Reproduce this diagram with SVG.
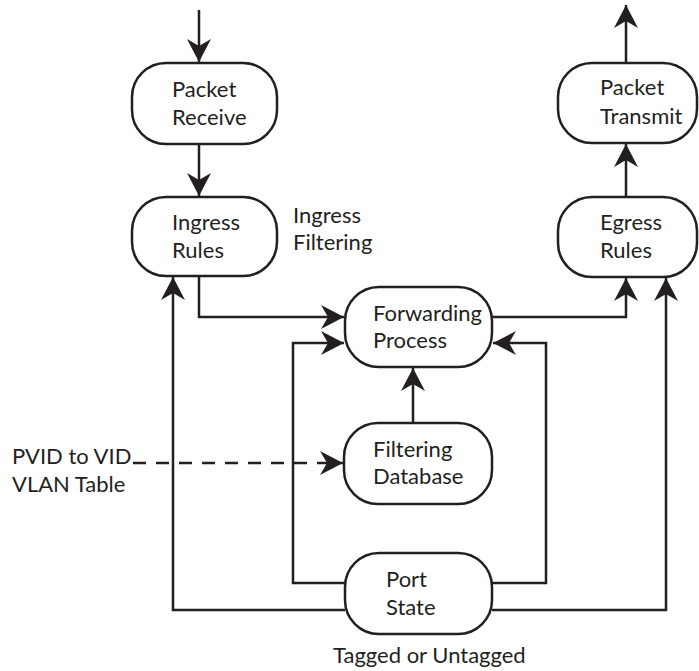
<svg xmlns="http://www.w3.org/2000/svg" width="699" height="671" viewBox="0 0 699 671">
<style>
.box{fill:#fff;stroke:#231f20;stroke-width:2.5}
.lbl{font-family:Lato,"Open Sans",sans-serif;font-size:22px;fill:#231f20}
.wire{fill:none;stroke:#231f20;stroke-width:2.5}
.dash{stroke-dasharray:13 10}
</style>
<defs>
<marker id="ah" markerUnits="userSpaceOnUse" markerWidth="26" markerHeight="26" viewBox="-24 -13 26 26" refX="0" refY="0" orient="auto">
<path d="M0,0 L-23,-12 L-16,0 L-23,12 Z" fill="#231f20"/>
</marker>
</defs>
<rect width="699" height="671" fill="#fff"/>
<g id="connectors">
<path class="wire" d="M199,10 V62" marker-end="url(#ah)"/>
<path class="wire" d="M199,144 V196" marker-end="url(#ah)"/>
<path class="wire" d="M199,276 V317 H344" marker-end="url(#ah)"/>
<path class="wire" d="M345,610 H173 V277" marker-end="url(#ah)"/>
<path class="wire" d="M345,583 H293 V343 H344" marker-end="url(#ah)"/>
<path class="wire" d="M492,583 H546 V343 H493" marker-end="url(#ah)"/>
<path class="wire" d="M492,610 H666 V278" marker-end="url(#ah)"/>
<path class="wire" d="M492,317 H626 V278" marker-end="url(#ah)"/>
<path class="wire" d="M413,423 V368" marker-end="url(#ah)"/>
<path class="wire" d="M626,197 V144" marker-end="url(#ah)"/>
<path class="wire" d="M626,63 V5" marker-end="url(#ah)"/>
<path class="wire dash" d="M133,463 H343" marker-end="url(#ah)"/>
</g>
<g id="packet-receive">
<rect class="box" x="132" y="63" width="145" height="81" rx="34" ry="34"/>
<text class="lbl" x="172" y="97">Packet</text>
<text class="lbl" x="172" y="125">Receive</text>
</g>
<g id="ingress-rules">
<rect class="box" x="132" y="197" width="145" height="79" rx="34" ry="34"/>
<text class="lbl" x="172" y="230">Ingress</text>
<text class="lbl" x="172" y="258">Rules</text>
</g>
<g id="ingress-filtering">
<text class="lbl" x="293" y="223">Ingress</text>
<text class="lbl" x="293" y="250">Filtering</text>
</g>
<g id="forwarding-process">
<rect class="box" x="345" y="287" width="147" height="80" rx="34" ry="34"/>
<text class="lbl" x="373" y="321">Forwarding</text>
<text class="lbl" x="373" y="348">Process</text>
</g>
<g id="filtering-database">
<rect class="box" x="344" y="423" width="148" height="81" rx="34" ry="34"/>
<text class="lbl" x="373" y="457">Filtering</text>
<text class="lbl" x="373" y="484">Database</text>
</g>
<g id="port-state">
<rect class="box" x="345" y="553" width="147" height="81" rx="34" ry="34"/>
<text class="lbl" x="386" y="587">Port</text>
<text class="lbl" x="386" y="615">State</text>
</g>
<g id="tagged-label">
<text class="lbl" x="333" y="663">Tagged or Untagged</text>
</g>
<g id="pvid-label">
<text class="lbl" x="12" y="464">PVID to VID</text>
<text class="lbl" x="12" y="492">VLAN Table</text>
</g>
<g id="packet-transmit">
<rect class="box" x="558" y="63" width="139" height="80" rx="34" ry="34"/>
<text class="lbl" x="600" y="95">Packet</text>
<text class="lbl" x="600" y="124">Transmit</text>
</g>
<g id="egress-rules">
<rect class="box" x="558" y="197" width="139" height="80" rx="34" ry="34"/>
<text class="lbl" x="600" y="230">Egress</text>
<text class="lbl" x="600" y="258">Rules</text>
</g>
</svg>
